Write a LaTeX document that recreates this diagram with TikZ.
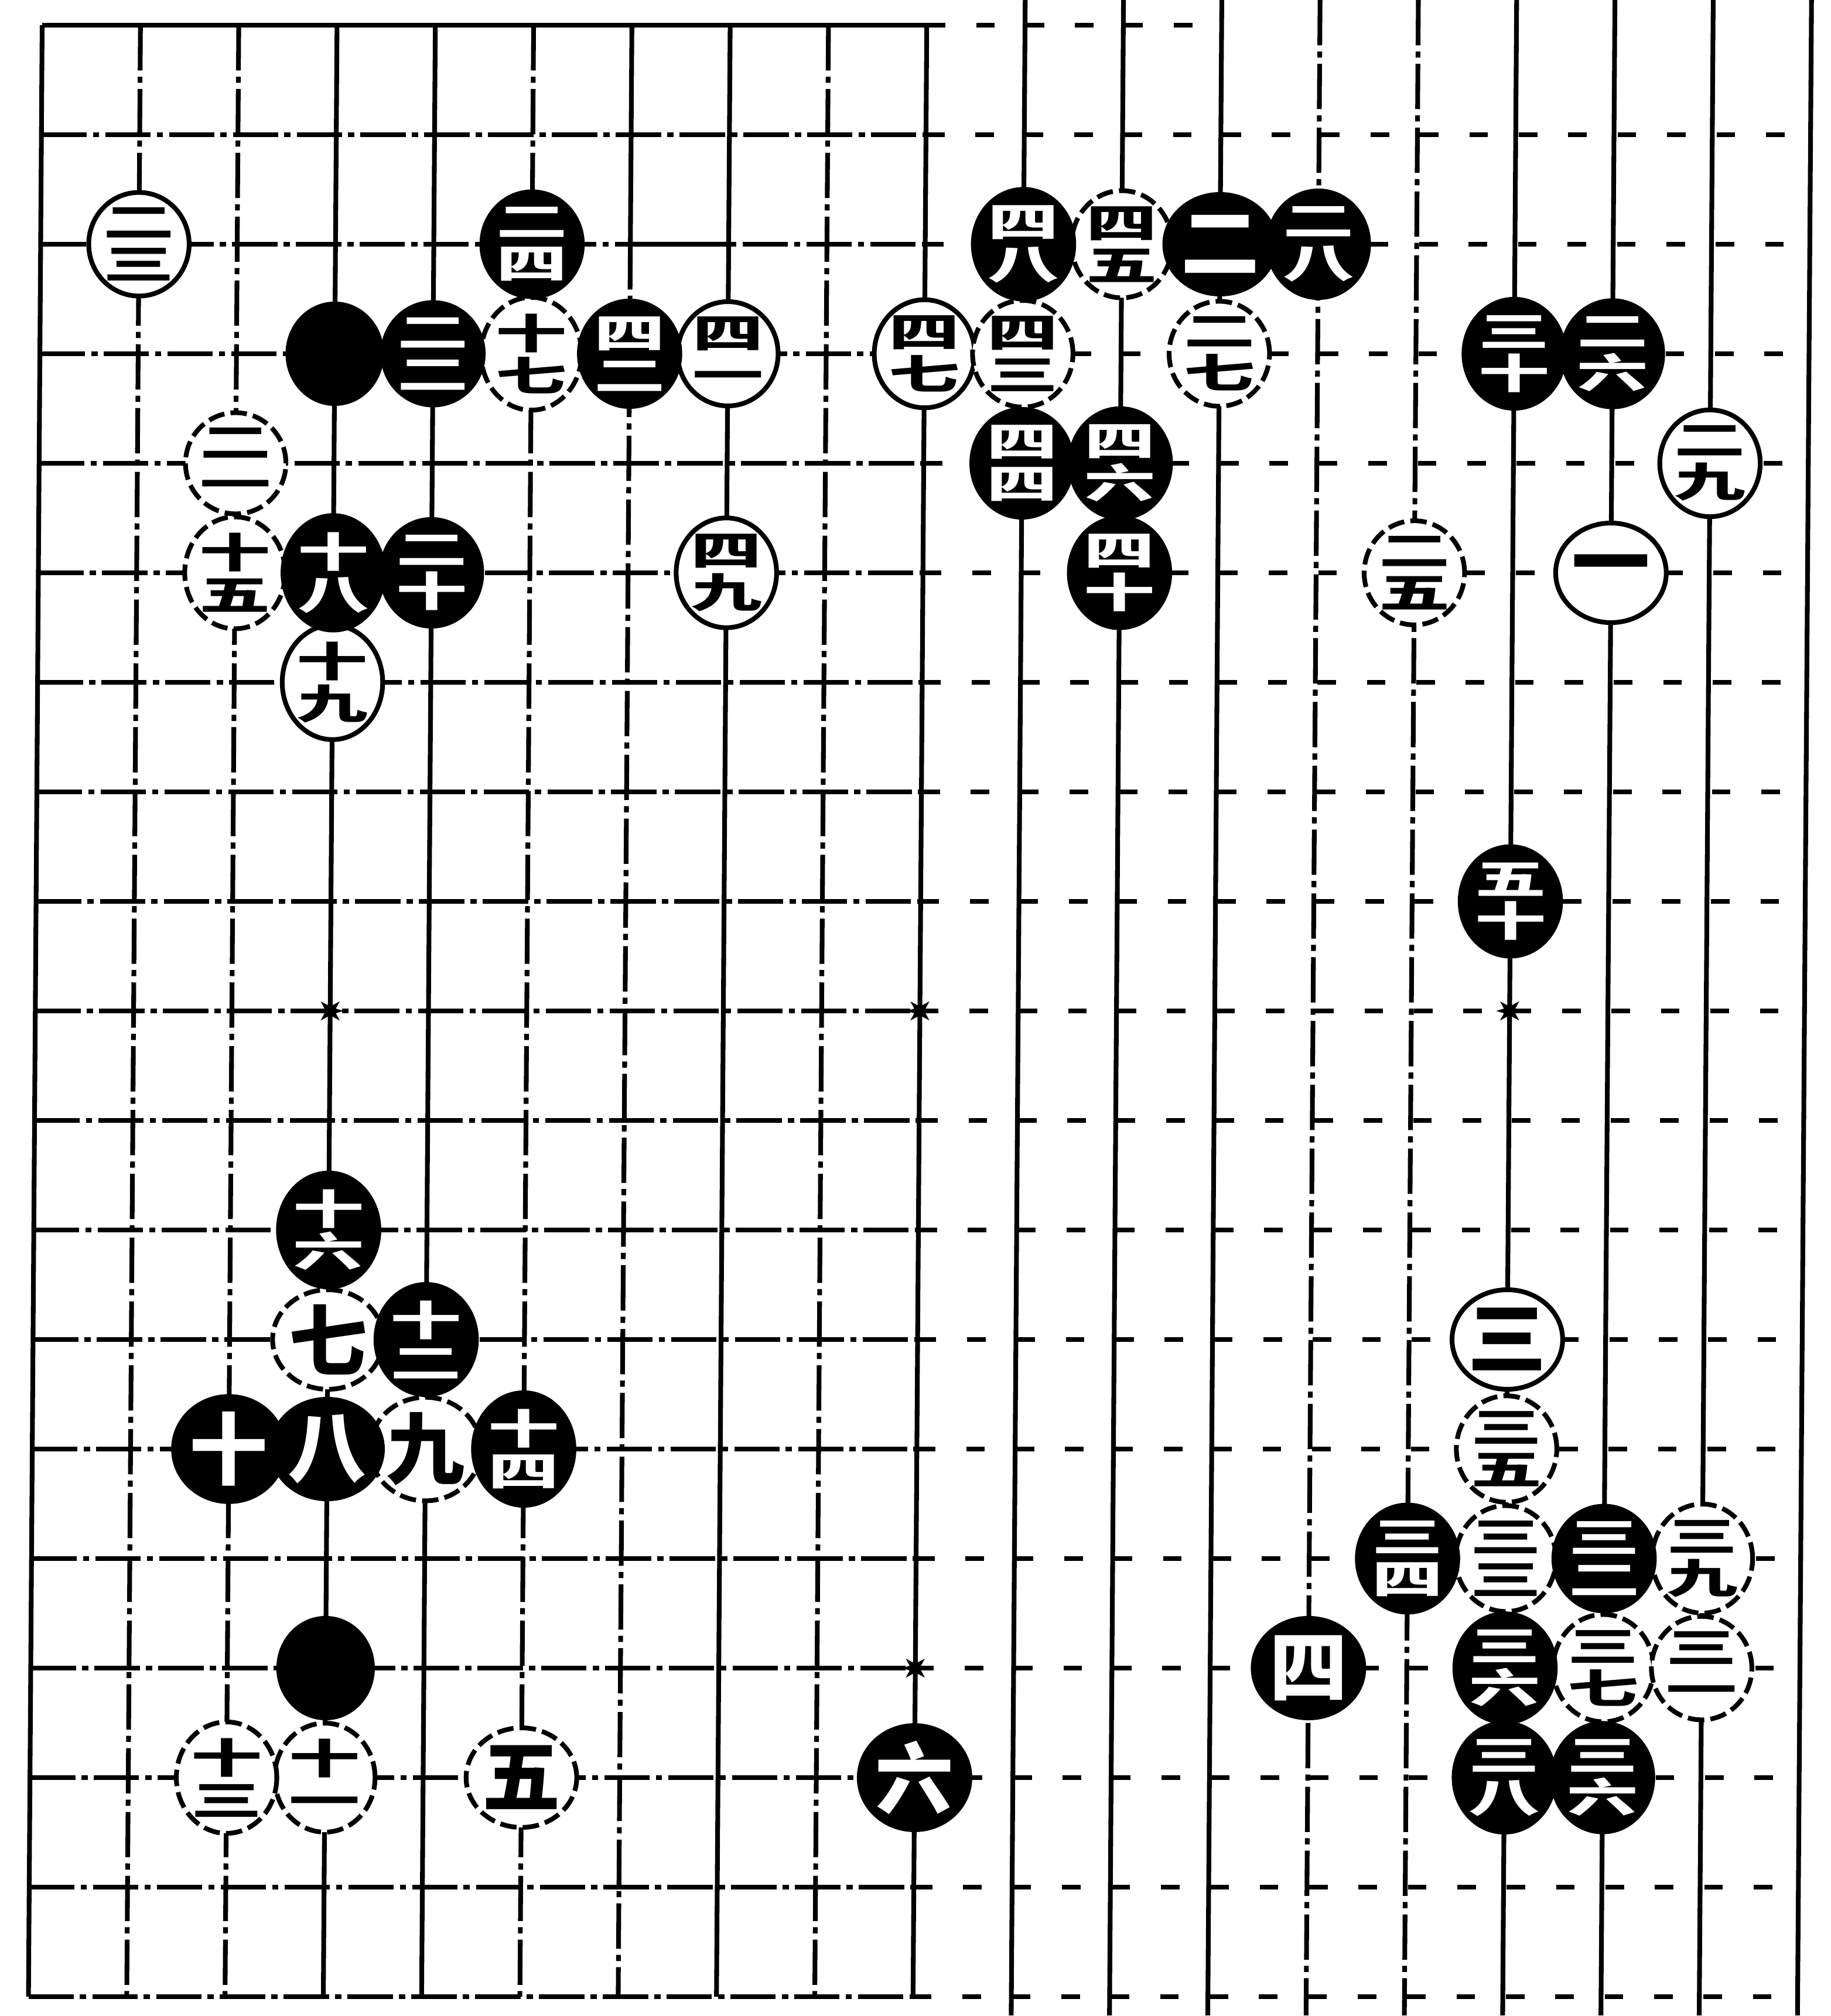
\documentclass[tikz,border=0pt]{standalone}
\usepackage{fontspec}
\usepackage{graphicx}
\newfontfamily\cjk{Noto Sans CJK SC}
\usetikzlibrary{shapes.geometric}
\newcommand{\tw}[2]{\scalebox{1.15}[0.66]{#1}\\\scalebox{1.15}[0.66]{#2}}
\newcommand{\one}[1]{{\fontsize{38}{38}\selectfont #1}}
\tikzset{
 gl/.style={line width=2.3pt},
 gb/.style={line width=2.3pt, dash pattern=on 22pt off 3pt on 3pt off 3pt},
 gs/.style={line width=2.1pt, dash pattern=on 9pt off 15pt},
 stn/.style={ellipse, minimum width=1.60cm, minimum height=1.70cm, inner sep=0pt, line width=2.3pt, font=\cjk\bfseries\fontsize{30}{20.5}\selectfont, align=center},
 ws/.style={stn, draw=black, fill=white},
 wd/.style={ws, dash pattern=on 8pt off 3pt},
 bs/.style={stn, draw=black, fill=black, text=white},
 hoshi/.style={star, star points=8, star point ratio=2.2, fill=black, minimum size=0.46cm, inner sep=0pt},
}
\begin{document}
\begin{tikzpicture}[x=1.678cm,y={(-0.013cm,-1.87cm)}]
\useasboundingbox (-0.72cm,0.43cm) rectangle (30.53cm,-33.99cm);
\fill[white] (-0.72cm,0.43cm) rectangle (30.53cm,-33.99cm);
% vertical lines
\foreach \c/\s in {0/gl,1/gb,2/gb,3/gl,4/gl,5/gb,7/gl,8/gb,9/gl}
  \draw[\s] (\c,0) -- (\c,18);
\draw[gl] (6,0) -- (6,2) -- (7,2);
\draw[gb] (6,2) -- (6,18);
\foreach \c/\s in {10/gl,11/gl,12/gl,13/gb,14/gb,15/gl,16/gl,17/gl,18/gl}
  \draw[\s] (\c,-0.23) -- (\c,18.17);
% horizontal lines
\draw[gl] (0,0) -- (9,0);
\draw[gs] (9,0) -- (12,0);
\foreach \r in {1,...,18} {
  \draw[gb] (0,\r) -- (9,\r);
  \draw[gs] (9,\r) -- (18,\r);
}
% star points
\node[hoshi] (h1) at (3,9) {};
\node[hoshi] (h2) at (9,9) {};
\node[hoshi] (h3) at (15,9) {};
\node[hoshi] (h4) at (9,15) {};
% white stones, solid outline
\node[ws] (w23) at (1,2) {\tw{二}{三}};
\node[ws] (w41) at (7,3) {\tw{四}{一}};
\node[ws] (w49) at (7,5) {\tw{四}{九}};
\node[ws] (w19) at (3,6) {\tw{十}{九}};
\node[ws] (w47) at (9,3) {\tw{四}{七}};
\node[ws] (w1) at (16,5) {\one{一}};
\node[ws] (w29) at (17,4) {\tw{二}{九}};
\node[ws] (w3) at (15,12) {\one{三}};
% white stones, broken outline
\node[wd] (w21) at (2,4) {\tw{二}{一}};
\node[wd] (w15) at (2,5) {\tw{十}{五}};
\node[wd] (w17) at (5,3) {\tw{十}{七}};
\node[wd] (w43) at (10,3) {\tw{四}{三}};
\node[wd] (w45) at (11,2) {\tw{四}{五}};
\node[wd] (w27) at (12,3) {\tw{二}{七}};
\node[wd] (w25) at (14,5) {\tw{二}{五}};
\node[wd] (w35) at (15,13) {\tw{三}{五}};
\node[wd] (w33) at (15,14) {\tw{三}{三}};
\node[wd] (w39) at (17,14) {\tw{三}{九}};
\node[wd] (w37) at (16,15) {\tw{三}{七}};
\node[wd] (w31) at (17,15) {\tw{三}{一}};
\node[wd] (w7) at (3,12) {\one{七}};
\node[wd] (w9) at (4,13) {\one{九}};
\node[wd] (w11) at (3,16) {\tw{十}{一}};
\node[wd] (w13) at (2,16) {\tw{十}{三}};
\node[wd] (w5) at (5,16) {\one{五}};
% black stones
\node[bs] (b0a) at (3,3) {};
\node[bs] (b0b) at (3,15) {};
\node[bs] (b2) at (12,2) {\one{二}};
\node[bs] (b4) at (13,15) {\one{四}};
\node[bs] (b6) at (9,16) {\one{六}};
\node[bs] (b8) at (3,13) {\one{八}};
\node[bs] (b10) at (2,13) {\one{十}};
\node[bs] (b12) at (4,12) {\tw{十}{二}};
\node[bs] (b14) at (5,13) {\tw{十}{四}};
\node[bs] (b16) at (3,11) {\tw{十}{六}};
\node[bs] (b18) at (3,5) {\tw{十}{八}};
\node[bs] (b20) at (4,5) {\tw{二}{十}};
\node[bs] (b22) at (4,3) {\tw{二}{二}};
\node[bs] (b24) at (5,2) {\tw{二}{四}};
\node[bs] (b26) at (16,3) {\tw{二}{六}};
\node[bs] (b28) at (13,2) {\tw{二}{八}};
\node[bs] (b30) at (15,3) {\tw{三}{十}};
\node[bs] (b32) at (16,14) {\tw{三}{二}};
\node[bs] (b34) at (14,14) {\tw{三}{四}};
\node[bs] (b36) at (15,15) {\tw{三}{六}};
\node[bs] (b38) at (15,16) {\tw{三}{八}};
\node[bs] (b36b) at (16,16) {\tw{三}{六}};
\node[bs] (b40) at (11,5) {\tw{四}{十}};
\node[bs] (b42) at (6,3) {\tw{四}{二}};
\node[bs] (b44) at (10,4) {\tw{四}{四}};
\node[bs] (b46) at (11,4) {\tw{四}{六}};
\node[bs] (b48) at (10,2) {\tw{四}{八}};
\node[bs] (b50) at (15,8) {\tw{五}{十}};
\end{tikzpicture}
\end{document}
